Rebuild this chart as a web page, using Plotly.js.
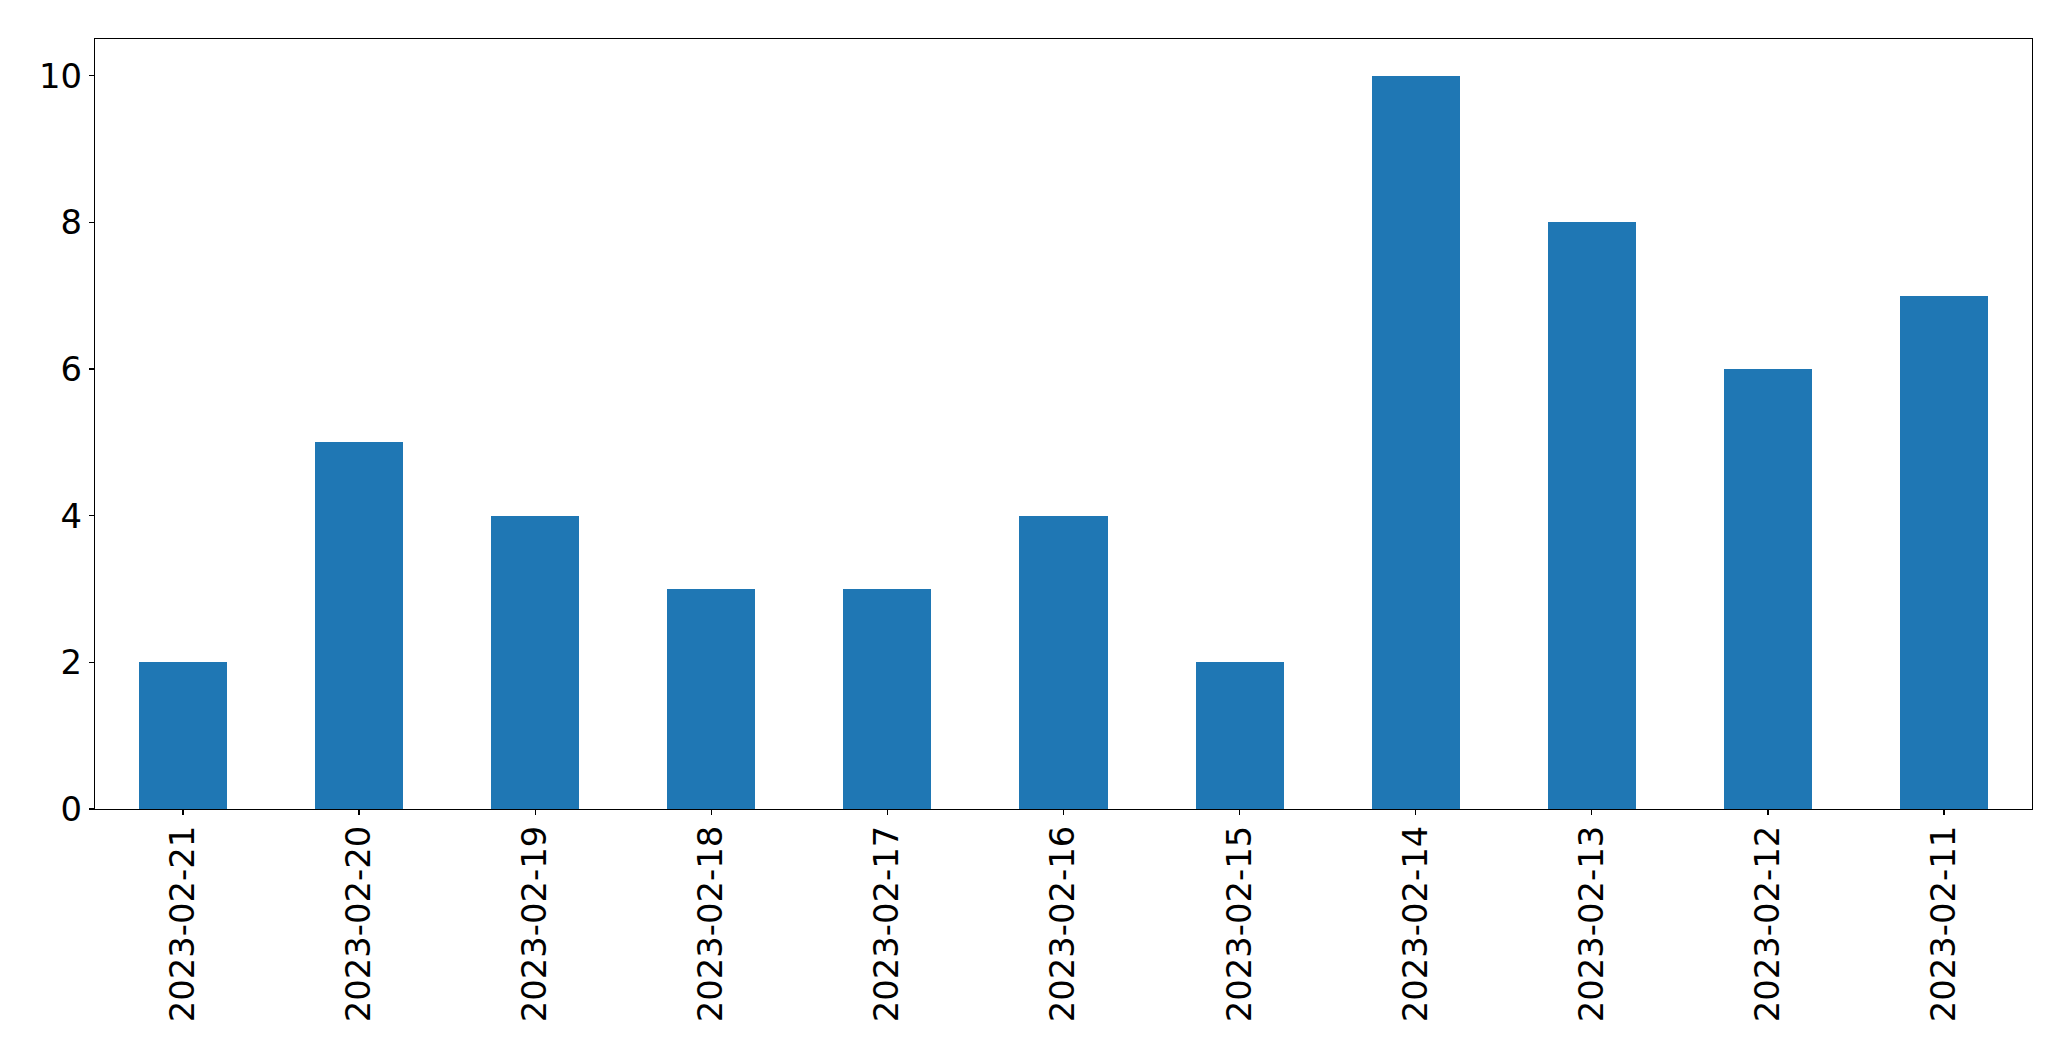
<!DOCTYPE html>
<html>
<head>
<meta charset="utf-8">
<script src="https://cdn.plot.ly/plotly-3.0.1.min.js"></script>
<style>html,body{margin:0;padding:0;background:#fff;}#chart{width:2071px;height:1061px;}</style>
</head>
<body>
<div id="chart"></div>
<script>
const dates = ["2023-02-21","2023-02-20","2023-02-19","2023-02-18","2023-02-17","2023-02-16","2023-02-15","2023-02-14","2023-02-13","2023-02-12","2023-02-11"];
const counts = [2,5,4,3,3,4,2,10,8,6,7];
const yTicks = [0,2,4,6,8,10];

const trace = {
  type: 'bar',
  x: dates,
  y: counts,
  width: 0.5,
  marker: {color: '#1f77b4', line: {width: 0}},
  hoverinfo: 'x+y'
};

const layout = {
  width: 2071,
  height: 1061,
  margin: {l: 95, r: 39, t: 39, b: 252, pad: 0},
  paper_bgcolor: '#ffffff',
  plot_bgcolor: '#ffffff',
  font: {family: 'DejaVu Sans', size: 33.8, color: '#000000'},
  showlegend: false,
  bargap: 0,
  xaxis: {
    type: 'category',
    range: [-0.5, 10.5],
    tickangle: -90,
    ticks: 'outside',
    ticklen: 5,
    tickwidth: 1.3,
    tickcolor: '#000',
    ticklabelstandoff: -3,
    showline: true,
    linecolor: '#000',
    linewidth: 1.3,
    mirror: true,
    showgrid: false,
    zeroline: false,
    tickfont: {family: 'DejaVu Sans', size: 33.8, color: '#000'}
  },
  yaxis: {
    range: [0, 10.5],
    tickvals: yTicks,
    ticktext: yTicks.map(String),
    ticks: 'outside',
    ticklen: 5,
    tickwidth: 1.3,
    tickcolor: '#000',
    showline: true,
    linecolor: '#000',
    linewidth: 1.3,
    mirror: true,
    showgrid: false,
    zeroline: false,
    tickfont: {family: 'DejaVu Sans', size: 33.8, color: '#000'}
  }
};

Plotly.newPlot('chart', [trace], layout, {displayModeBar: false, staticPlot: true});
</script>
</body>
</html>
